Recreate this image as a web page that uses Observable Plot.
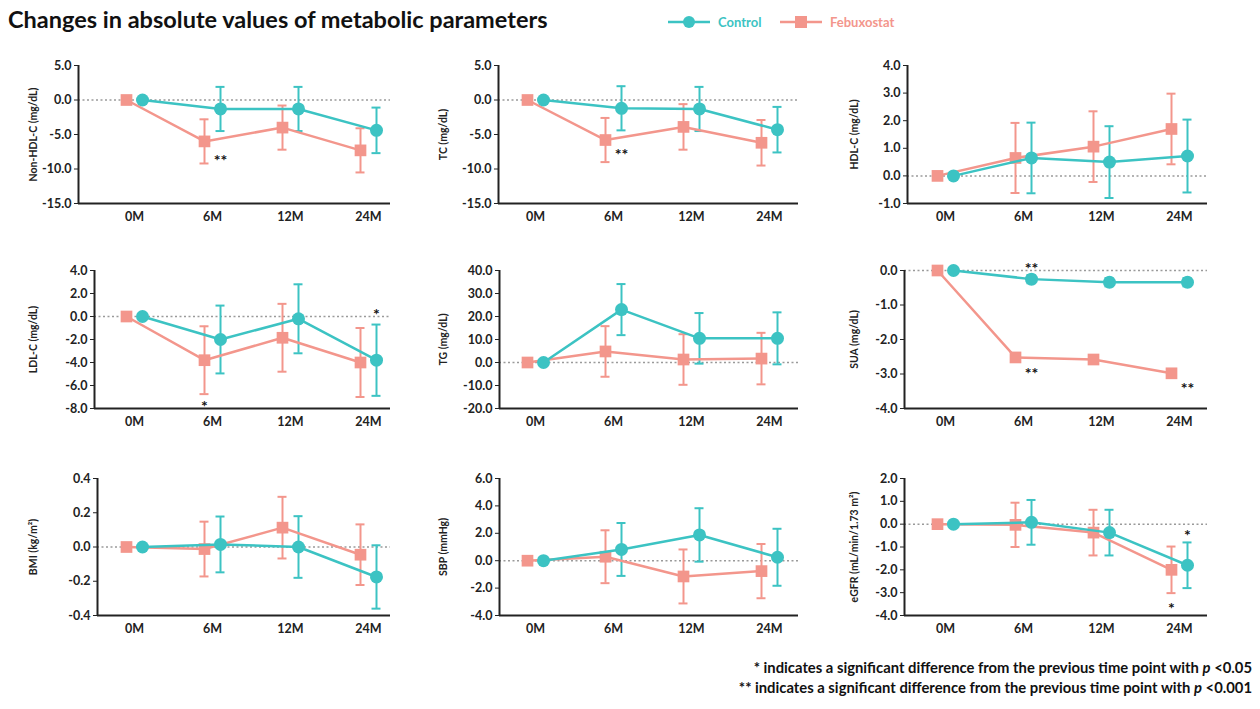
<!DOCTYPE html>
<html><head><meta charset="utf-8">
<script src="https://cdn.jsdelivr.net/npm/d3@7"></script>
<script src="https://cdn.jsdelivr.net/npm/@observablehq/plot@0.6"></script>
<style>
body{margin:0;background:#fff;font-family:Lato,"Open Sans",sans-serif;}
#wrap{position:relative;width:1260px;height:709px;overflow:hidden;background:#fff;}
.panel{position:absolute;}
.panel svg{overflow:visible;}
.panel svg text{font-family:Lato,"Open Sans",sans-serif;font-weight:700;}
#title{position:absolute;left:8px;top:5px;font-size:23.5px;font-weight:700;color:#111;white-space:nowrap;}
.leg{position:absolute;top:12px;height:20px;display:flex;align-items:center;font-size:13px;font-weight:700;white-space:nowrap;}
.foot{position:absolute;right:8px;font-size:14.8px;font-weight:700;color:#111;white-space:nowrap;}
</style></head>
<body><div id="wrap">
<div id="title">Changes in absolute values of metabolic parameters</div>
<div class="leg" style="left:666px;color:#3cc3c3">
<svg width="46" height="20"><line x1="2" y1="10" x2="44" y2="10" stroke="#3cc3c3" stroke-width="2.5"/><circle cx="23" cy="10" r="6" fill="#3cc3c3"/></svg><span style="margin-left:6px">Control</span></div>
<div class="leg" style="left:778px;color:#f3968c">
<svg width="46" height="20"><line x1="2" y1="10" x2="44" y2="10" stroke="#f3968c" stroke-width="2.5"/><rect x="17" y="4" width="12" height="12" fill="#f3968c"/></svg><span style="margin-left:6px">Febuxostat</span></div>
<div class="foot" style="top:658px">* indicates a significant difference from the previous time point with <i>p</i> &lt;0.05</div>
<div class="foot" style="top:678px">** indicates a significant difference from the previous time point with <i>p</i> &lt;0.001</div>
</div>
<script>
// ---------- data ----------
const timepoints = ["0M", "6M", "12M", "24M"];
const seriesNames = ["Control", "Febuxostat"];
const seriesColors = ["#3cc3c3", "#f3968c"];

const nonHdlTicks = [5, 0, -5, -10, -15];
const nonHdlCtrl = [0, -1.3, -1.3, -4.4];
const nonHdlCtrlErr = [0, 3.2, 3.2, 3.3];
const nonHdlFeb = [0, -6.0, -4.0, -7.3];
const nonHdlFebErr = [0, 3.2, 3.2, 3.2];

const tcTicks = [5, 0, -5, -10, -15];
const tcCtrl = [0, -1.2, -1.3, -4.3];
const tcCtrlErr = [0, 3.2, 3.2, 3.3];
const tcFeb = [0, -5.8, -3.9, -6.2];
const tcFebErr = [0, 3.2, 3.3, 3.3];

const hdlTicks = [4, 3, 2, 1, 0, -1];
const hdlCtrl = [0, 0.65, 0.5, 0.72];
const hdlCtrlErr = [0, 1.28, 1.3, 1.32];
const hdlFeb = [0, 0.65, 1.06, 1.7];
const hdlFebErr = [0, 1.27, 1.28, 1.28];

const ldlTicks = [4, 2, 0, -2, -4, -6, -8];
const ldlCtrl = [0, -2.0, -0.2, -3.8];
const ldlCtrlErr = [0, 2.95, 3.0, 3.1];
const ldlFeb = [0, -3.8, -1.85, -4.0];
const ldlFebErr = [0, 2.95, 2.95, 3.0];

const tgTicks = [40, 30, 20, 10, 0, -10, -20];
const tgCtrl = [0, 23, 10.5, 10.5];
const tgCtrlErr = [0, 11.1, 11, 11.3];
const tgFeb = [0, 4.8, 1.3, 1.7];
const tgFebErr = [0, 11, 11, 11.2];

const suaTicks = [0, -1, -2, -3, -4];
const suaCtrl = [0, -0.25, -0.34, -0.34];
const suaCtrlErr = [0, 0.12, 0.12, 0.12];
const suaFeb = [0, -2.52, -2.58, -2.98];
const suaFebErr = [0, 0.12, 0.12, 0.12];

const bmiTicks = [0.4, 0.2, 0, -0.2, -0.4];
const bmiCtrl = [0, 0.015, 0, -0.175];
const bmiCtrlErr = [0, 0.163, 0.18, 0.185];
const bmiFeb = [0, -0.012, 0.113, -0.045];
const bmiFebErr = [0, 0.16, 0.18, 0.177];

const sbpTicks = [6, 4, 2, 0, -2, -4];
const sbpCtrl = [0, 0.82, 1.88, 0.25];
const sbpCtrlErr = [0, 1.93, 1.95, 2.08];
const sbpFeb = [0, 0.29, -1.15, -0.76];
const sbpFebErr = [0, 1.93, 1.97, 1.98];

const egfrTicks = [2, 1, 0, -1, -2, -3, -4];
const egfrCtrl = [0, 0.08, -0.37, -1.8];
const egfrCtrlErr = [0, 0.98, 1.0, 1.0];
const egfrFeb = [0, -0.03, -0.37, -2.0];
const egfrFebErr = [0, 0.97, 1.0, 1.02];

// significance marks: panel, time point, series, y value, text
const starPanel = ["Non-HDL-C", "TC", "LDL-C", "LDL-C", "SUA", "SUA", "SUA", "eGFR", "eGFR"];
const starTime = ["6M", "6M", "6M", "24M", "6M", "6M", "24M", "24M", "24M"];
const starSeries = ["Control", "Control", "Febuxostat", "Control", "Control", "Control", "Control", "Control", "Febuxostat"];
const starY = [-8.1, -7.2, -7.4, 0.6, 0.2, -2.86, -3.28, -0.29, -3.48];
const starText = ["**", "**", "*", "*", "**", "**", "**", "*", "*"];

// ---------- layout ----------
const rowTop = [65, 270, 478], rowBottom = [203, 408, 615];
const colLeft = [0, 420, 840], colRight = [390, 798, 1207];
const colC0 = [134, 535, 945], spacing = 78;
const labelX = [33, 443, 854];

const panels = [
  {key:"Non-HDL-C", label:"Non-HDL-C (mg/dL)", ticks:nonHdlTicks, ctrl:nonHdlCtrl, ctrlErr:nonHdlCtrlErr, feb:nonHdlFeb, febErr:nonHdlFebErr, row:0, col:0, axisX:78},
  {key:"TC", label:"TC (mg/dL)", ticks:tcTicks, ctrl:tcCtrl, ctrlErr:tcCtrlErr, feb:tcFeb, febErr:tcFebErr, row:0, col:1, axisX:498},
  {key:"HDL-C", label:"HDL-C (mg/dL)", ticks:hdlTicks, ctrl:hdlCtrl, ctrlErr:hdlCtrlErr, feb:hdlFeb, febErr:hdlFebErr, row:0, col:2, axisX:907},
  {key:"LDL-C", label:"LDL-C (mg/dL)", ticks:ldlTicks, ctrl:ldlCtrl, ctrlErr:ldlCtrlErr, feb:ldlFeb, febErr:ldlFebErr, row:1, col:0, axisX:94},
  {key:"TG", label:"TG (mg/dL)", ticks:tgTicks, ctrl:tgCtrl, ctrlErr:tgCtrlErr, feb:tgFeb, febErr:tgFebErr, row:1, col:1, axisX:499},
  {key:"SUA", label:"SUA (mg/dL)", ticks:suaTicks, ctrl:suaCtrl, ctrlErr:suaCtrlErr, feb:suaFeb, febErr:suaFebErr, row:1, col:2, axisX:904},
  {key:"BMI", label:"BMI (kg/m²)", ticks:bmiTicks, ctrl:bmiCtrl, ctrlErr:bmiCtrlErr, feb:bmiFeb, febErr:bmiFebErr, row:2, col:0, axisX:97},
  {key:"SBP", label:"SBP (mmHg)", ticks:sbpTicks, ctrl:sbpCtrl, ctrlErr:sbpCtrlErr, feb:sbpFeb, febErr:sbpFebErr, row:2, col:1, axisX:499},
  {key:"eGFR", label:"eGFR (mL/min/1.73 m²)", ticks:egfrTicks, ctrl:egfrCtrl, ctrlErr:egfrCtrlErr, feb:egfrFeb, febErr:egfrFebErr, row:2, col:2, axisX:904}
];

const wrap = document.getElementById("wrap");
const off = 8 / spacing, cap = 4.5 / spacing;

panels.forEach(p => {
  const mt = 16, mb = 34;
  const left = colLeft[p.col];
  const width = 420;
  const height = rowBottom[p.row] - rowTop[p.row] + mt + mb;
  const ml = p.axisX - left, mr = left + width - colRight[p.col];
  const c0 = colC0[p.col];
  const xL = (p.axisX - c0) / spacing;
  const xR = (colRight[p.col] - c0) / spacing;
  const yMin = d3.min(p.ticks), yMax = d3.max(p.ticks);

  const rows = [];
  timepoints.forEach((t, i) => {
    rows.push({series:"Febuxostat", x:i - off, m:p.feb[i], e:p.febErr[i]});
    rows.push({series:"Control", x:i + off, m:p.ctrl[i], e:p.ctrlErr[i]});
  });
  const errRows = rows.filter(d => d.e > 0);
  const stars = starPanel.map((k, j) => ({k, t:timepoints.indexOf(starTime[j]), s:starSeries[j], y:starY[j], text:starText[j]}))
    .filter(d => d.k === p.key)
    .map(d => ({...d, x:d.t + (d.s === "Control" ? off : -off)}));

  const chart = Plot.plot({
    width, height, marginLeft:ml, marginRight:mr, marginTop:mt, marginBottom:mb,
    x:{domain:[xL, xR]},
    y:{domain:[yMin, yMax]},
    color:{domain:seriesNames, range:seriesColors},
    style:{background:"transparent", color:"#222", overflow:"visible"},
    marks:[
      Plot.ruleY([0], {stroke:"#9a9a9a", strokeWidth:1.5, strokeDasharray:"2,2.5"}),
      Plot.ruleX([xL], {stroke:"#222", strokeWidth:2}),
      Plot.ruleY([yMin], {stroke:"#222", strokeWidth:2}),
      Plot.axisY({ticks:p.ticks, tickFormat:d => d.toFixed(1), tickSize:4, tickPadding:3, fontSize:12.5, label:null}),
      Plot.axisX({ticks:[0,1,2,3], tickFormat:i => timepoints[i], tickSize:0, tickPadding:9, fontSize:12.5, label:null}),
      Plot.text([p.label], {frameAnchor:"left", dx:labelX[p.col] - p.axisX, rotate:-90, textAnchor:"middle", fontSize:10.5, fill:"#222"}),
      Plot.ruleX(errRows, {x:"x", y1:d => d.m - d.e, y2:d => d.m + d.e, stroke:"series", strokeWidth:2}),
      Plot.ruleY(errRows, {y:d => d.m + d.e, x1:d => d.x - cap, x2:d => d.x + cap, stroke:"series", strokeWidth:2}),
      Plot.ruleY(errRows, {y:d => d.m - d.e, x1:d => d.x - cap, x2:d => d.x + cap, stroke:"series", strokeWidth:2}),
      Plot.line(rows.filter(d => d.series === "Febuxostat"), {x:"x", y:"m", stroke:"series", strokeWidth:2.5}),
      Plot.dot(rows.filter(d => d.series === "Febuxostat"), {x:"x", y:"m", symbol:"square", r:6.6, fill:"series", stroke:"none"}),
      Plot.line(rows.filter(d => d.series === "Control"), {x:"x", y:"m", stroke:"series", strokeWidth:2.5}),
      Plot.dot(rows.filter(d => d.series === "Control"), {x:"x", y:"m", r:6.5, fill:"series", stroke:"none"}),
      Plot.text(stars, {x:"x", y:"y", text:"text", fontSize:16, dy:5, fill:"#111"})
    ]
  });
  const div = document.createElement("div");
  div.className = "panel";
  div.style.left = left + "px";
  div.style.top = (rowTop[p.row] - mt) + "px";
  div.appendChild(chart);
  wrap.appendChild(div);
});
</script>
</body></html>
